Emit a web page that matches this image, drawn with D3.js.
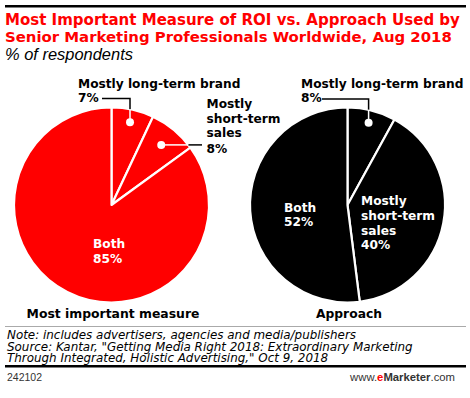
<!DOCTYPE html>
<meta charset="utf-8">
<head>
<title>Most Important Measure of ROI vs. Approach</title>
<script src="https://d3js.org/d3.v7.min.js"></script>
</head>
<style>
body { margin: 0; background: #fff; }
svg { display: block; }
.bold { font-family: "DejaVu Sans", Verdana, sans-serif; font-weight: bold; }
.ital { font-family: "DejaVu Sans", Verdana, sans-serif; font-style: italic; }
.foot { font-family: "Liberation Sans", Arial, sans-serif; }
</style>
<body>
<svg></svg>
<script>

// data
let titleLines = ["Most Important Measure of ROI vs. Approach Used by",
                  "Senior Marketing Professionals Worldwide, Aug 2018"];
let subtitle = "% of respondents";
let charts = ["Most important measure", "Approach"];
let categories = ["Mostly long-term brand", "Mostly short-term sales", "Both"];
let measureValues = [7, 8, 85];
let approachValues = [8, 40, 52];
let notes = ["Note: includes advertisers, agencies and media/publishers",
             "Source: Kantar, \"Getting Media Right 2018: Extraordinary Marketing",
             "Through Integrated, Holistic Advertising,\" Oct 9, 2018"];
let chartId = "242102";

let width = 470, height = 398;
let svg = d3.select("svg").attr("width", width).attr("height", height);

// scale a text's font size so that it is w pixels wide
function fit(sel, w) {
  let fs = +sel.attr("font-size");
  let cur = sel.node().getComputedTextLength();
  sel.attr("font-size", (fs * w / cur).toFixed(2));
  return sel;
}

// header
svg.append("rect").attr("x", 5).attr("y", 5).attr("width", 461).attr("height", 2.5).attr("fill", "#000");
titleLines.forEach((t, i) => {
  let s = svg.append("text").attr("class", "bold")
    .attr("x", 5).attr("y", 25 + i * 17)
    .attr("font-size", 15).attr("fill", "#ff0000")
    .text(t);
  fit(s, i == 0 ? 455 : 447);
});
fit(svg.append("text").attr("class", "foot")
  .attr("x", 5).attr("y", 60).attr("font-size", 14).attr("font-style", "italic")
  .text(subtitle), 128);

let R = 97.5;
let pies = [
  {name: charts[0], values: measureValues, cx: 111.5, cy: 205, color: "#ff0000", labelW: 173},
  {name: charts[1], values: approachValues, cx: 347.5, cy: 205, color: "#000000", labelW: 66}
];

let pie = d3.pie().sort(null).value(d => d);
let arc = d3.arc().innerRadius(0).outerRadius(R);

// label layout per pie: outside labels with leader lines, inside labels as text
let layouts = [
  [
    {type: "up", dotR: 0.87, lines: [categories[0]], tx: 78, ty: 87.5, lineY: 98.5, lineX0: 102},
    {type: "side", dotR: 0.8, lines: ["Mostly", "short-term", "sales"], tx: 206.5, ty: 108.3, lineX1: 202},
    {type: "in", lines: ["Both"], tx: 93, ty: 248.3}
  ],
  [
    {type: "up", dotR: 0.87, lines: [categories[0]], tx: 301, ty: 88.3, lineY: 99, lineX0: 322},
    {type: "in", lines: ["Mostly", "short-term", "sales"], tx: 361, ty: 205},
    {type: "in", lines: ["Both"], tx: 284, ty: 211.5}
  ]
];

let labelSize = 12.2;

pies.forEach((p, pi) => {
  let g = svg.append("g").attr("transform", `translate(${p.cx},${p.cy})`);
  let arcs = pie(p.values);

  g.selectAll("path").data(arcs).enter().append("path")
    .attr("d", arc).attr("fill", p.color)
    .attr("stroke", "#fff").attr("stroke-width", 2.2).attr("stroke-linejoin", "round");

  arcs.forEach((a, i) => {
    let lay = layouts[pi][i];
    let pctText = a.data + "%";
    if (lay.type == "in") {
      let t = g.append("text").attr("class", "bold").attr("fill", "#fff").attr("font-size", labelSize);
      lay.lines.concat([pctText]).forEach((s, k) => {
        t.append("tspan").attr("x", lay.tx - p.cx).attr("y", lay.ty - p.cy + k * 14.8).text(s);
      });
      return;
    }
    let mid = (a.startAngle + a.endAngle) / 2;
    let dx = Math.sin(mid) * R * lay.dotR, dy = -Math.cos(mid) * R * lay.dotR;
    let t = g.append("text").attr("class", "bold").attr("fill", "#000").attr("font-size", labelSize);
    if (lay.type == "up") {
      let edgeY = -Math.sqrt(R * R - dx * dx);
      g.append("path").attr("fill", "none").attr("stroke", "#000").attr("stroke-width", 1.5)
        .attr("d", `M${lay.lineX0 - p.cx},${lay.lineY - p.cy}H${dx}V${edgeY}`);
      g.append("line").attr("stroke", "#fff").attr("stroke-width", 1.5)
        .attr("x1", dx).attr("x2", dx).attr("y1", edgeY).attr("y2", dy);
      t.append("tspan").attr("x", lay.tx - p.cx).attr("y", lay.ty - p.cy).text(lay.lines[0]);
      t.append("tspan").attr("x", lay.tx - p.cx).attr("y", lay.ty - p.cy + 14).text(pctText);
    } else {
      let edgeX = Math.sqrt(R * R - dy * dy);
      g.append("path").attr("fill", "none").attr("stroke", "#000").attr("stroke-width", 1.5)
        .attr("d", `M${edgeX},${dy}H${lay.lineX1 - p.cx}`);
      g.append("line").attr("stroke", "#fff").attr("stroke-width", 1.5)
        .attr("x1", dx).attr("x2", edgeX).attr("y1", dy).attr("y2", dy);
      lay.lines.concat([pctText]).forEach((s, k) => {
        t.append("tspan").attr("x", lay.tx - p.cx).attr("y", lay.ty - p.cy + k * 14.3 + (k == 3 ? 2 : 0)).text(s);
      });
    }
    g.append("circle").attr("cx", dx).attr("cy", dy).attr("r", 4).attr("fill", "#fff");
  });

  fit(svg.append("text").attr("class", "bold")
    .attr("x", p.cx + 1.5).attr("y", 318.3).attr("text-anchor", "middle").attr("font-size", 13)
    .text(p.name), p.labelW);
});

// footer
svg.append("rect").attr("x", 5).attr("y", 326).attr("width", 461).attr("height", 1).attr("fill", "#aaa");
// notes: one text block, longest line sets the size
let noteText = svg.append("text").attr("class", "ital").attr("font-size", 11);
notes.forEach((n, i) => {
  noteText.append("tspan").attr("x", 7).attr("y", 339 + i * 11.7).text(n);
});
let noteSpan = noteText.selectAll("tspan").filter((d, i) => i == 1).node();
noteText.attr("font-size", (11 * 406 / noteSpan.getComputedTextLength()).toFixed(2));

svg.append("rect").attr("x", 5).attr("y", 365).attr("width", 461).attr("height", 2.5).attr("fill", "#000");
fit(svg.append("text").attr("class", "foot").attr("x", 7).attr("y", 380.5).attr("font-size", 10).attr("fill", "#333")
  .text(chartId), 35);
let site = svg.append("text").attr("class", "foot").attr("x", 455).attr("y", 380.5)
  .attr("font-size", 11).attr("text-anchor", "end").attr("fill", "#333");
site.append("tspan").text("www.");
site.append("tspan").attr("fill", "#ff0000").attr("font-weight", "bold").text("e");
site.append("tspan").attr("font-weight", "bold").text("Marketer");
site.append("tspan").text(".com");
fit(site, 105);

</script>
</body>
